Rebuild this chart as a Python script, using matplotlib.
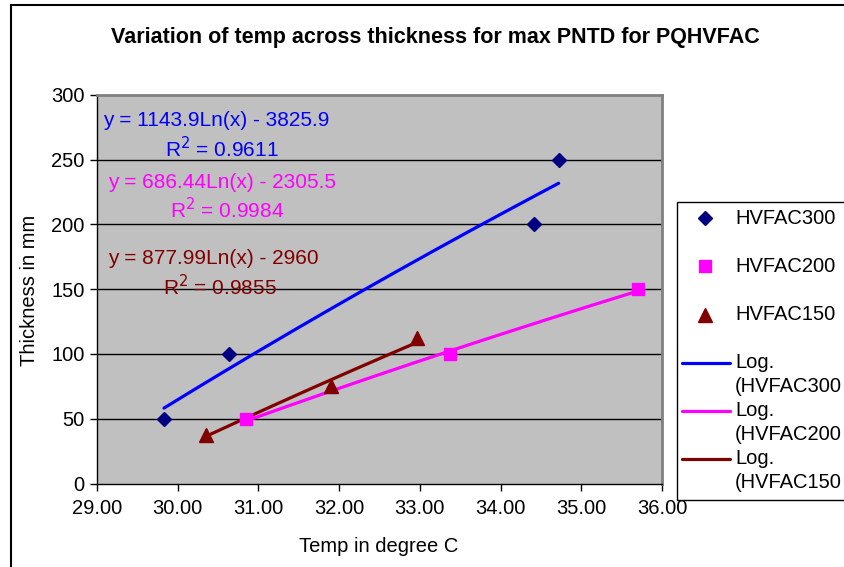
import numpy as np
import matplotlib
matplotlib.use("Agg")
import matplotlib.pyplot as plt
from matplotlib.lines import Line2D
from matplotlib.patches import Rectangle

plt.rcParams['font.family'] = ['Liberation Sans', 'DejaVu Sans']

# ---- data ----
x300 = [29.83, 30.63, 34.42, 34.72]
y300 = [50, 100, 200, 250]
x200 = [30.85, 33.37, 35.70]
y200 = [50, 100, 150]
x150 = [30.35, 31.90, 32.97]
y150 = [37.5, 75, 112.5]

# log trendline coefficients  y = a*ln(x) + b
coef300 = (1143.9, -3825.9)
coef200 = (686.44, -2305.5)
coef150 = (877.99, -2960.0)
r2_300 = 0.9611
r2_200 = 0.9984
r2_150 = 0.9855

series_names = ["HVFAC300", "HVFAC200", "HVFAC150"]
xticks = [29, 30, 31, 32, 33, 34, 35, 36]
yticks = [0, 50, 100, 150, 200, 250, 300]

W, H = 844, 567
fig = plt.figure(figsize=(W / 100, H / 100), dpi=100)

def fx(x):
    return x / W

def fy(y):
    return 1 - y / H

# outer chart border
fig.patches.append(Rectangle((fx(11), fy(600)), fx(900) - fx(11), fy(4.5) - fy(600),
                             transform=fig.transFigure, fill=False,
                             edgecolor='black', linewidth=1.5))

ax_l, ax_r, ax_t, ax_b = 97, 662, 95, 483.5
ax = fig.add_axes([fx(ax_l), fy(ax_b), fx(ax_r) - fx(ax_l), fy(ax_t) - fy(ax_b)])
ax.set_facecolor('#C0C0C0')
ax.set_xlim(29, 36)
ax.set_ylim(0, 300)
ax.set_xticks(xticks)
ax.set_xticklabels([f"{v:.2f}" for v in xticks])
ax.set_yticks(yticks)
ax.tick_params(axis='both', direction='out', length=5, width=1, labelsize=14.5, colors='black')
ax.tick_params(axis='x', pad=6)
ax.tick_params(axis='y', pad=4)
for v in yticks[1:-1]:
    ax.axhline(v, color='black', linewidth=1, zorder=1)
for s in ['top', 'right']:
    ax.spines[s].set_color('#808080')
    ax.spines[s].set_linewidth(2)
for s in ['left', 'bottom']:
    ax.spines[s].set_color('black')
    ax.spines[s].set_linewidth(1)

colors_line = ['#0000FF', '#FF00FF', '#800000']
colors_mark = ['#000080', '#FF00FF', '#800000']
markers = ['D', 's', '^']
msizes = [6.8, 8, 9.5]

data = [(x300, y300, coef300), (x200, y200, coef200), (x150, y150, coef150)]
for (xs, ys, (a, b)), cl in zip(data, colors_line):
    xx = np.linspace(min(xs), max(xs), 200)
    ax.plot(xx, a * np.log(xx) + b, color=cl, linewidth=2.3, zorder=3,
            solid_capstyle='round')
for (xs, ys, _), cm, mk, ms in zip(data, colors_mark, markers, msizes):
    ax.plot(xs, ys, linestyle='none', marker=mk, color=cm, markersize=ms, zorder=4)

# titles/labels
fig.text(fx(435), fy(38), "Variation of temp across thickness for max PNTD for PQHVFAC",
         ha='center', va='center', fontsize=15.5, fontweight='bold')
fig.text(fx(30), fy(290), "Thickness in mm", rotation=90, ha='center', va='center', fontsize=14.5)
fig.text(fx(379), fy(546), "Temp in degree C", ha='center', va='center', fontsize=14.5)

# trendline equations
eqs = [
    (coef300, r2_300, colors_line[0], (103, 121), (165, 149)),
    (coef200, r2_200, colors_line[1], (108, 182), (170, 210)),
    (coef150, r2_150, colors_line[2], (108, 258), (163, 287)),
]
for (a, b), r2, c, p1, p2 in eqs:
    bs = f"{abs(b):g}"
    fig.text(fx(p1[0]), fy(p1[1]), f"y = {a:g}Ln(x) - {bs}", color=c,
             ha='left', va='center', fontsize=15)
    fig.text(fx(p2[0]), fy(p2[1]), f"R$^2$ = {r2:.4f}", color=c,
             ha='left', va='center', fontsize=15)

# legend (manual, figure coords)
fig.patches.append(Rectangle((fx(677), fy(500)), fx(900) - fx(677), fy(202) - fy(500),
                             transform=fig.transFigure, facecolor='white',
                             edgecolor='black', linewidth=1, zorder=5))
ys_mark = [218, 266, 315]
for y, cm, mk, ms, name in zip(ys_mark, colors_mark, markers, msizes, series_names):
    fig.add_artist(Line2D([fx(705)], [fy(y)], transform=fig.transFigure, marker=mk,
                          color=cm, markersize=ms, linestyle='none', zorder=6))
    fig.text(fx(735), fy(y), name, ha='left', va='center', fontsize=14.5, zorder=6)
ys_line = [363, 411, 459]
for y, cl, name in zip(ys_line, colors_line, series_names):
    fig.add_artist(Line2D([fx(682), fx(730)], [fy(y), fy(y)], transform=fig.transFigure,
                          color=cl, linewidth=2.3, solid_capstyle='round', zorder=6))
    fig.text(fx(735), fy(y), "Log.", ha='left', va='center', fontsize=14.5, zorder=6)
    fig.text(fx(735), fy(y + 23), f"({name}", ha='left', va='center', fontsize=14.5, zorder=6)

fig.savefig("out.png", dpi=100)
